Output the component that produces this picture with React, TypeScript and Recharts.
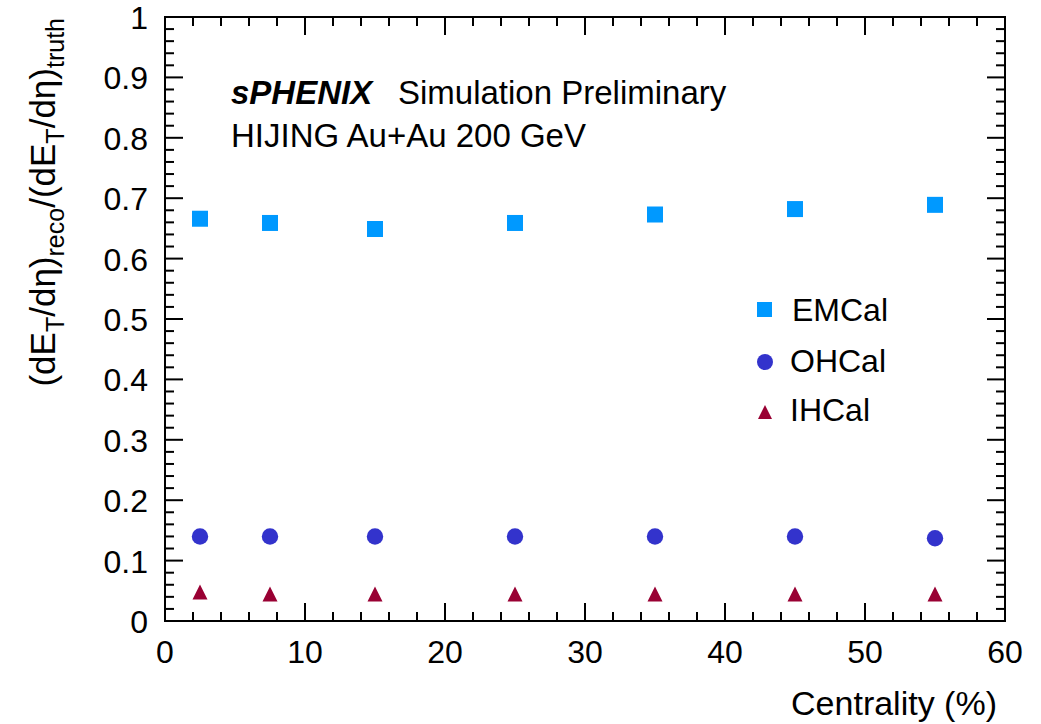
import React from "react";
import { ScatterChart, Scatter, XAxis, YAxis, ReferenceLine, ReferenceArea } from "recharts";

const CENTRALITY = [2.5, 7.5, 15, 25, 35, 45, 55];
const EMCAL = [0.666, 0.659, 0.649, 0.659, 0.673, 0.682, 0.689];
const OHCAL = [0.14, 0.14, 0.14, 0.14, 0.14, 0.14, 0.137];
const IHCAL = [0.047, 0.044, 0.044, 0.044, 0.044, 0.044, 0.044];

const X_MAJOR = [0, 10, 20, 30, 40, 50, 60];
const Y_MAJOR = [0, 0.1, 0.2, 0.3, 0.4, 0.5, 0.6, 0.7, 0.8, 0.9, 1];

const W = 1041;
const H = 724;
const MARGIN = { top: 17, right: 36, bottom: 102, left: 164 };
const PLOT_W = W - MARGIN.left - MARGIN.right - 2;
const PLOT_H = H - MARGIN.top - MARGIN.bottom - 2;
const FONT = "'Liberation Sans', Arial, Helvetica, sans-serif";
const INK = "#000";
const MAJOR_LEN = 18;
const MINOR_LEN = 9;

const COLORS = { EMCal: "#0099ff", OHCal: "#3333cc", IHCal: "#990033" };

// 5 subdivisions between majors, like ROOT's default 510 divisions
function withMinor(majors: number[]): number[] {
  const out: number[] = [];
  for (let i = 0; i < majors.length - 1; i++) {
    const step = (majors[i + 1] - majors[i]) / 5;
    for (let k = 0; k < 5; k++) out.push(Math.round((majors[i] + k * step) * 1000) / 1000);
  }
  out.push(majors[majors.length - 1]);
  return out;
}

const X_TICKS = withMinor(X_MAJOR);
const Y_TICKS = withMinor(Y_MAJOR);
const isMajor = (list: number[], v: number) => list.some((m) => Math.abs(m - v) < 1e-6);

// tick lengths converted from pixels to data units
const xLen = (px: number) => (px * 60) / PLOT_W;
const yLen = (px: number) => px / PLOT_H;

const toPoints = (ys: number[]) => CENTRALITY.map((x, i) => ({ x, y: ys[i] }));

function BottomLabel(props: any) {
  const { x, y, payload } = props;
  if (!isMajor(X_MAJOR, payload.value)) return <g />;
  return (
    <text x={x} y={y + 42} textAnchor="middle" fontFamily={FONT} fontSize={32} fill="#000">
      {payload.value}
    </text>
  );
}

function LeftLabel(props: any) {
  const { x, y, payload } = props;
  if (!isMajor(Y_MAJOR, payload.value)) return <g />;
  return (
    <text x={x - 17} y={y + 12} textAnchor="end" fontFamily={FONT} fontSize={32} fill="#000">
      {String(payload.value)}
    </text>
  );
}

const square = (color: string) => (p: any) => <rect x={p.cx - 8} y={p.cy - 8} width={16} height={16} fill={color} />;
const circle = (color: string) => (p: any) => <circle cx={p.cx} cy={p.cy} r={8.2} fill={color} />;
const triangle = (color: string) => (p: any) => (
  <polygon points={`${p.cx},${p.cy - 8} ${p.cx - 7.5},${p.cy + 7} ${p.cx + 7.5},${p.cy + 7}`} fill={color} />
);

const frame = { stroke: INK, strokeWidth: 2 };

export default function App() {
  const xTickLines = X_TICKS.flatMap((v) => {
    const len = yLen(isMajor(X_MAJOR, v) ? MAJOR_LEN : MINOR_LEN);
    return [
      <ReferenceLine key={`b${v}`} segment={[{ x: v, y: 0 }, { x: v, y: len }]} stroke={INK} strokeWidth={2} />,
      <ReferenceLine key={`t${v}`} segment={[{ x: v, y: 1 - len }, { x: v, y: 1 }]} stroke={INK} strokeWidth={2} />,
    ];
  });
  const yTickLines = Y_TICKS.flatMap((v) => {
    const len = xLen(isMajor(Y_MAJOR, v) ? MAJOR_LEN : MINOR_LEN);
    return [
      <ReferenceLine key={`l${v}`} segment={[{ x: 0, y: v }, { x: len, y: v }]} stroke={INK} strokeWidth={2} />,
      <ReferenceLine key={`r${v}`} segment={[{ x: 60 - len, y: v }, { x: 60, y: v }]} stroke={INK} strokeWidth={2} />,
    ];
  });

  return (
    <div style={{ position: "relative", width: W, height: H }}>
      <style>{`body{margin:0}`}</style>
      <ScatterChart width={W} height={H} margin={MARGIN}>
        <XAxis
          type="number"
          dataKey="x"
          domain={[0, 60]}
          ticks={X_TICKS}
          interval={0}
          height={1}
          tickSize={0}
          tickMargin={0}
          tickLine={false}
          axisLine={frame}
          tick={BottomLabel}
        />
        <YAxis
          type="number"
          dataKey="y"
          domain={[0, 1]}
          ticks={Y_TICKS}
          interval={0}
          width={1}
          tickSize={0}
          tickMargin={0}
          tickLine={false}
          axisLine={frame}
          tick={LeftLabel}
        />
        <ReferenceArea x1={0} x2={60} y1={0} y2={1} fill="none" fillOpacity={0} stroke={INK} strokeWidth={2} />
        {xTickLines}
        {yTickLines}
        <Scatter data={toPoints(EMCAL)} shape={square(COLORS.EMCal)} isAnimationActive={false} />
        <Scatter data={toPoints(OHCAL)} shape={circle(COLORS.OHCal)} isAnimationActive={false} />
        <Scatter data={toPoints(IHCAL)} shape={triangle(COLORS.IHCal)} isAnimationActive={false} />
      </ScatterChart>

      <svg width={W} height={H} style={{ position: "absolute", left: 0, top: 0, pointerEvents: "none" }}>
        <g fontFamily={FONT}>
          <text x={231} y={104} fontSize={33} fontWeight="bold" fontStyle="italic" fill="#000">sPHENIX</text>
          <text x={398} y={104} fontSize={33} fill="#000">Simulation Preliminary</text>
          <text x={231} y={147} fontSize={33} fill="#000">HIJING Au+Au 200 GeV</text>

          <rect x={757} y={302} width={15} height={15} fill={COLORS.EMCal} />
          <text x={792} y={321} fontSize={32} fill="#000">EMCal</text>
          <circle cx={765} cy={362} r={8} fill={COLORS.OHCal} />
          <text x={790} y={372} fontSize={32} fill="#000">OHCal</text>
          <polygon points="765,405 758,419 772,419" fill={COLORS.IHCal} />
          <text x={790} y={421} fontSize={32} fill="#000">IHCal</text>

          <text x={997} y={715} fontSize={34} textAnchor="end" fill="#000">Centrality (%)</text>
          <text transform="translate(55,18) rotate(-90)" textAnchor="end" fontSize={35} fill="#000">
            (dE<tspan dy={9} fontSize={25}>T</tspan>
            <tspan dy={-9}>/dη)</tspan>
            <tspan dy={9} fontSize={25}>reco</tspan>
            <tspan dy={-9}>/(dE</tspan>
            <tspan dy={9} fontSize={25}>T</tspan>
            <tspan dy={-9}>/dη)</tspan>
            <tspan dy={9} fontSize={25}>truth</tspan>
          </text>
        </g>
      </svg>
    </div>
  );
}
